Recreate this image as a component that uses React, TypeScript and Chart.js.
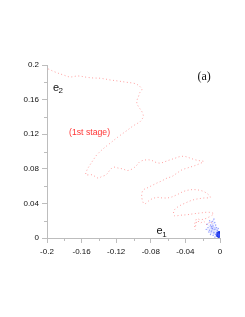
import React, { useEffect, useRef } from "react";
import { Chart, registerables } from "chart.js";

Chart.register(...registerables);

const xMajorTicks = [-0.2, -0.16, -0.12, -0.08, -0.04, 0];
const xMinorTicks = [-0.18, -0.14, -0.1, -0.06, -0.02];
const yMajorTicks = [0, 0.04, 0.08, 0.12, 0.16, 0.2];
const yMinorTicks = [0.02, 0.06, 0.1, 0.14, 0.18];

// 1st stage trajectory (red)
const stage1X = [
  -0.1985, -0.1907, -0.1811, -0.1735, -0.1641, -0.154, -0.1467, -0.1386, -0.1328, -0.127,
  -0.1178, -0.1077, -0.1016, -0.0961, -0.0903, -0.0929, -0.0943, -0.0958, -0.0961, -0.094,
  -0.0903, -0.0885, -0.09, -0.0923, -0.1004, -0.1077, -0.1178, -0.127, -0.1351, -0.1424,
  -0.1464, -0.151, -0.1533, -0.1548, -0.1552, -0.1482, -0.1444, -0.1406, -0.1367, -0.1317,
  -0.127, -0.1232, -0.1174, -0.1116, -0.1077, -0.1019, -0.0969, -0.0923, -0.0845, -0.0787,
  -0.0749, -0.0691, -0.0633, -0.0576, -0.0518, -0.046, -0.0402, -0.0344, -0.0286, -0.0228,
  -0.019, -0.0266, -0.0324, -0.0382, -0.044, -0.0498, -0.0556, -0.0614, -0.0672, -0.073,
  -0.0787, -0.0845, -0.0885, -0.0903, -0.0903, -0.0885, -0.0865, -0.0807, -0.073, -0.0653,
  -0.0576, -0.0498, -0.0422, -0.0344, -0.0266, -0.019, -0.0132, -0.0112, -0.019, -0.0306,
  -0.0402, -0.0479, -0.0526, -0.0537, -0.0526, -0.046, -0.0382, -0.0306, -0.0228, -0.0151,
  -0.0112, -0.0074, -0.0151, -0.0228, -0.0266, -0.0286, -0.0294, -0.0286, -0.028, -0.0263,
  -0.0228, -0.019, -0.0151, -0.0112, -0.0078,
];
const stage1Y = [
  0.1954, 0.1919, 0.1885, 0.1862, 0.1873, 0.1858, 0.185, 0.1847, 0.1838, 0.1827,
  0.1815, 0.18, 0.1792, 0.1777, 0.172, 0.1677, 0.1634, 0.1596, 0.1558, 0.1515,
  0.1461, 0.1403, 0.1377, 0.1346, 0.1296, 0.1242, 0.1169, 0.1096, 0.1031, 0.0961,
  0.0904, 0.0834, 0.0796, 0.0757, 0.0731, 0.0731, 0.0711, 0.0692, 0.0711, 0.0731,
  0.0788, 0.0819, 0.0808, 0.0796, 0.078, 0.0796, 0.0834, 0.0884, 0.0904, 0.0896,
  0.0877, 0.0866, 0.0884, 0.0904, 0.0923, 0.0942, 0.0942, 0.0923, 0.0904, 0.0892,
  0.0884, 0.0846, 0.0826, 0.0808, 0.0788, 0.075, 0.0711, 0.0692, 0.0661, 0.0635,
  0.0607, 0.0577, 0.0557, 0.0519, 0.0462, 0.0404, 0.0396, 0.0442, 0.0469, 0.0462,
  0.0469, 0.05, 0.0538, 0.0557, 0.0557, 0.0538, 0.05, 0.0469, 0.0462, 0.0442,
  0.0404, 0.0365, 0.0327, 0.0289, 0.0257, 0.0263, 0.0269, 0.028, 0.0289, 0.0298,
  0.0295, 0.028, 0.0231, 0.0211, 0.0223, 0.0188, 0.0134, 0.0096, 0.0153, 0.02,
  0.0173, 0.0194, 0.0153, 0.0188, 0.0153,
];

// later stage (blue scatter)
const stage2X = [
  -0.012, -0.008, -0.014, -0.006, -0.01, -0.004, -0.016, -0.007, -0.011, -0.003,
  -0.009, -0.005, -0.013, -0.002, -0.006, -0.008, -0.004, -0.001, -0.003, -0.002,
  -0.001, -0.0015, -0.0005, -0.002, -0.001, -0.003, -0.0008, -0.0012, -0.0025, -0.0005,
  -0.015, -0.009, -0.007, -0.011, -0.005, -0.004, -0.006, -0.002, -0.01, -0.012,
];
const stage2Y = [
  0.02, 0.014, 0.012, 0.018, 0.008, 0.012, 0.01, 0.006, 0.015, 0.009,
  0.011, 0.004, 0.007, 0.007, 0.01, 0.003, 0.006, 0.005, 0.003, 0.002,
  0.003, 0.004, 0.002, 0.005, 0.001, 0.005, 0.0035, 0.0025, 0.0035, 0.004,
  0.016, 0.019, 0.022, 0.004, 0.015, 0.002, 0.001, 0.011, 0.013, 0.009,
];
const coreX = [-0.001, -0.002, -0.0005, -0.0015, -0.001, -0.0025, -0.0005, -0.002];
const coreY = [0.003, 0.004, 0.005, 0.002, 0.006, 0.003, 0.0035, 0.0055];

const toPts = (xs: number[], ys: number[]) => xs.map((x, i) => ({ x, y: ys[i] }));

const AXIS = "#bdbdbd";

const extrasPlugin = {
  id: "extras",
  afterDraw(chart: any) {
    const ctx = chart.ctx;
    const xs = chart.scales.x;
    const ys = chart.scales.y;
    const area = chart.chartArea;
    ctx.save();
    ctx.strokeStyle = AXIS;
    ctx.lineWidth = 1;
    ctx.beginPath();
    for (const v of xMinorTicks) {
      const px = Math.round(xs.getPixelForValue(v)) + 0.5;
      ctx.moveTo(px, area.bottom);
      ctx.lineTo(px, area.bottom + 3);
    }
    for (const v of yMinorTicks) {
      const py = Math.round(ys.getPixelForValue(v)) + 0.5;
      ctx.moveTo(area.left, py);
      ctx.lineTo(area.left - 3, py);
    }
    ctx.stroke();

    ctx.fillStyle = "#111";
    ctx.textBaseline = "alphabetic";
    ctx.textAlign = "left";
    ctx.font = "12px 'Liberation Serif'";
    ctx.fillText("(a)", 197.5, 79.5);

    ctx.font = "11px 'Liberation Sans'";
    ctx.fillText("e", 53, 90.5);
    ctx.font = "8px 'Liberation Sans'";
    ctx.fillText("2", 58.5, 93);

    ctx.font = "11px 'Liberation Sans'";
    ctx.fillText("e", 156.5, 234);
    ctx.font = "8px 'Liberation Sans'";
    ctx.fillText("1", 162.2, 236.5);

    ctx.fillStyle = "#ff3535";
    ctx.font = "8.7px 'Liberation Sans'";
    ctx.fillText("(1st stage)", 69, 135);
    ctx.restore();
  },
};

export default function App() {
  const ref = useRef<HTMLCanvasElement | null>(null);
  useEffect(() => {
    if (!ref.current) return;
    const chart = new Chart(ref.current, {
      type: "scatter",
      data: {
        datasets: [
          {
            data: toPts(stage1X, stage1Y),
            showLine: true,
            borderColor: "rgba(255,80,80,0.6)",
            borderWidth: 1,
            borderDash: [0.9, 2.6],
            tension: 0.35,
            pointRadius: 0,
          },
          {
            data: toPts(stage2X, stage2Y),
            showLine: true,
            borderColor: "rgba(110,130,255,0.3)",
            borderWidth: 0.5,
            pointRadius: 0.7,
            pointBorderWidth: 0,
            pointBackgroundColor: "rgba(60,80,255,0.5)",
          },
          {
            data: toPts(coreX, coreY),
            showLine: false,
            pointRadius: 1.7,
            pointBorderWidth: 0,
            pointBackgroundColor: "#1530e0",
          },
        ],
      },
      options: {
        animation: false,
        responsive: false,
        maintainAspectRatio: false,
        layout: { padding: { top: 65, right: 25, left: 0, bottom: 0 } },
        plugins: { legend: { display: false }, tooltip: { enabled: false } },
        scales: {
          x: {
            type: "linear",
            min: -0.2,
            max: 0,
            afterFit: (s: any) => {
              s.height = 79;
            },
            afterBuildTicks: (s: any) => {
              s.ticks = xMajorTicks.map((v) => ({ value: v }));
            },
            grid: { drawOnChartArea: false, drawTicks: true, tickLength: 5, tickColor: AXIS },
            border: { display: true, color: AXIS },
            ticks: {
              color: "#111",
              font: { family: "'Liberation Sans'", size: 8 },
              padding: 4,
              maxRotation: 0,
              callback: (v: any) => String(Number(v)),
            },
          },
          y: {
            type: "linear",
            min: 0,
            max: 0.2,
            afterFit: (s: any) => {
              s.width = 47;
            },
            afterBuildTicks: (s: any) => {
              s.ticks = yMajorTicks.map((v) => ({ value: v }));
            },
            grid: { drawOnChartArea: false, drawTicks: true, tickLength: 5, tickColor: AXIS },
            border: { display: true, color: AXIS },
            ticks: {
              color: "#111",
              font: { family: "'Liberation Sans'", size: 8 },
              padding: 3,
              callback: (v: any) => String(Number(v)),
            },
          },
        },
      },
      plugins: [extrasPlugin],
    });
    return () => chart.destroy();
  }, []);
  return (
    <div style={{ position: "fixed", left: 0, top: 0, width: 245, height: 317, background: "#fff" }}>
      <canvas ref={ref} width={245} height={317} style={{ width: 245, height: 317 }} />
    </div>
  );
}
